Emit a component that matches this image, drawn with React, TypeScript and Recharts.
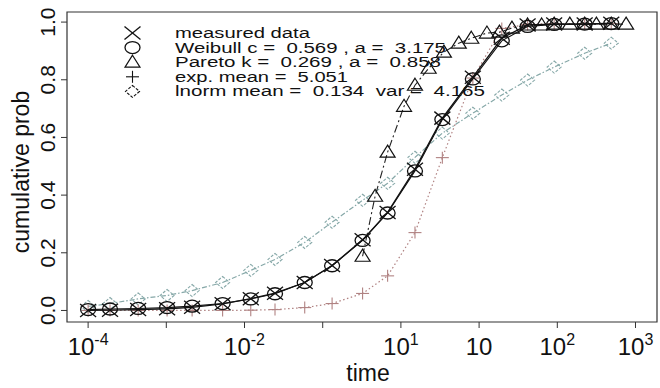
import React from 'react';
import { ScatterChart, Scatter, XAxis, YAxis, ReferenceArea } from 'recharts';

// ---------- data (time given as log10 exponent) ----------
const measuredLogT = [-4.0, -3.72, -3.36, -2.99, -2.67, -2.28, -1.92, -1.61, -1.23, -0.88, -0.49, -0.17, 0.18, 0.53, 0.92, 1.29, 1.62, 1.96, 2.35, 2.69];
const measuredP = [0.0, 0.001, 0.003, 0.006, 0.011, 0.023, 0.041, 0.06, 0.097, 0.156, 0.245, 0.34, 0.49, 0.667, 0.809, 0.944, 0.99, 0.993, 0.993, 0.996];
const weibullP = [0.003, 0.005, 0.007, 0.01, 0.015, 0.024, 0.04, 0.058, 0.097, 0.155, 0.243, 0.338, 0.484, 0.662, 0.803, 0.935, 0.985, 0.992, 0.993, 0.995];
const expP = [0.0, 0.0, 0.0, 0.0, 0.0, 0.0, 0.001, 0.003, 0.01, 0.024, 0.059, 0.12, 0.27, 0.53, 0.806, 0.978, 0.992, 0.995, 0.995, 0.995];
const lnormP = [0.014, 0.024, 0.04, 0.052, 0.069, 0.097, 0.139, 0.177, 0.236, 0.306, 0.382, 0.441, 0.531, 0.615, 0.684, 0.747, 0.799, 0.844, 0.892, 0.927];
const paretoLogT = [-0.49, -0.33, -0.17, 0.04, 0.18, 0.355, 0.55, 0.74, 0.9, 1.1, 1.26, 1.42, 1.62, 1.8, 1.96, 2.16, 2.35, 2.5, 2.69, 2.88];
const paretoP = [0.188, 0.396, 0.549, 0.708, 0.781, 0.84, 0.896, 0.927, 0.944, 0.962, 0.965, 0.979, 0.99, 0.99, 0.993, 0.993, 0.993, 0.993, 0.993, 0.993];

const xTickExps = [-4, -3, -2, -1, 0, 1, 2, 3];
const xTickLabels: Array<[string, string] | null> = [['10', '-4'], null, ['10', '-2'], null, ['10', '1'], ['10', ''], ['10', '2'], ['10', '3']];
const yTicks = [0, 0.2, 0.4, 0.6, 0.8, 1.0];
const yTickLabels = ['0.0', '0.2', '0.4', '0.6', '0.8', '1.0'];
const legendLabels = [
  'measured data',
  'Weibull c =  0.569 , a =  3.175',
  'Pareto k =  0.269 , a =  0.858',
  'exp. mean =  5.051',
  'lnorm mean =  0.134  var =  4.165',
];
const xTitle = 'time';
const yTitle = 'cumulative prob';

// ---------- layout / style ----------
const W = 660;
const H = 388;
const FONT = 'Liberation Sans, Arial, Helvetica, sans-serif';
const xDomain = [Math.pow(10, -4.27), Math.pow(10, 3.275)];
const yDomain = [-0.04, 1.035];
const legendTextWidths = [135, 271, 266, 173, 310];
const COL_EXP = '#b08282';
const COL_LN = '#86a8a8';

const toPts = (logs: number[], ps: number[]) => logs.map((e, i) => ({ t: Math.pow(10, e), p: ps[i] }));
const measuredData = toPts(measuredLogT, measuredP);
const weibullData = toPts(measuredLogT, weibullP);
const expData = toPts(measuredLogT, expP);
const lnormData = toPts(measuredLogT, lnormP);
const paretoData = toPts(paretoLogT, paretoP);

// ---------- markers ----------
const XMark = ({ cx, cy, color = '#111' }: any) => (
  <g stroke={color} strokeWidth={1.3} fill="none">
    <line x1={cx - 8} y1={cy - 6.5} x2={cx + 8} y2={cy + 6.5} />
    <line x1={cx - 8} y1={cy + 6.5} x2={cx + 8} y2={cy - 6.5} />
  </g>
);
const OMark = ({ cx, cy, color = '#111' }: any) => (
  <ellipse cx={cx} cy={cy} rx={7.5} ry={6} stroke={color} strokeWidth={1.3} fill="none" />
);
const TriMark = ({ cx, cy, color = '#111' }: any) => (
  <polygon points={`${cx},${cy - 7} ${cx + 7.5},${cy + 5} ${cx - 7.5},${cy + 5}`} stroke={color} strokeWidth={1.2} fill="none" />
);
const PlusMark = ({ cx, cy, color = COL_EXP }: any) => (
  <g stroke={color} strokeWidth={1.1}>
    <line x1={cx - 6.5} y1={cy} x2={cx + 6.5} y2={cy} />
    <line x1={cx} y1={cy - 6} x2={cx} y2={cy + 6} />
  </g>
);
const DiaMark = ({ cx, cy, color = COL_LN }: any) => (
  <polygon points={`${cx},${cy - 6} ${cx + 7},${cy} ${cx},${cy + 6} ${cx - 7},${cy}`} stroke={color} strokeWidth={1.1} fill="none" strokeDasharray="3 1.5" />
);

// ---------- ticks ----------
const XTick = (props: any) => {
  const { x, y, payload } = props;
  const e = Math.round(Math.log10(payload.value));
  const idx = xTickExps.indexOf(e);
  const lab = idx >= 0 ? xTickLabels[idx] : null;
  if (!lab) return null;
  return (
    <text x={x} y={y + 25} textAnchor="middle" fontSize={24} fontFamily={FONT} fill="#111">
      <tspan>{lab[0]}</tspan>
      {lab[1] ? <tspan dy={-10} fontSize={16}>{lab[1]}</tspan> : null}
    </text>
  );
};
const YTick = (props: any) => {
  const { x, y, payload } = props;
  const idx = yTicks.findIndex((v) => Math.abs(v - payload.value) < 1e-9);
  const bx = x - 4;
  return (
    <text x={bx} y={y} transform={`rotate(-90 ${bx} ${y})`} textAnchor="middle" fontSize={21} fontFamily={FONT} fill="#111">
      {idx >= 0 ? yTickLabels[idx] : ''}
    </text>
  );
};

const legendMarks = [XMark, OMark, TriMark, PlusMark, DiaMark];

export default function App() {
  return (
    <div style={{ position: 'absolute', left: 0, top: 0, width: W, height: H, background: '#fff' }}>
      <ScatterChart width={W} height={H} margin={{ top: 12, right: 3, bottom: 0, left: 0 }}>
        <XAxis
          dataKey="t"
          type="number"
          scale="log"
          domain={xDomain}
          allowDataOverflow
          ticks={xTickExps.map((e) => Math.pow(10, e))}
          interval={0}
          tick={<XTick />}
          tickLine={{ stroke: '#333', strokeWidth: 1 }}
          tickSize={6}
          axisLine={false}
          height={66}
        />
        <YAxis
          dataKey="p"
          type="number"
          domain={yDomain}
          allowDataOverflow
          ticks={yTicks}
          interval={0}
          tick={<YTick />}
          tickLine={{ stroke: '#333', strokeWidth: 1 }}
          tickSize={6}
          axisLine={false}
          width={67}
        />
        <ReferenceArea x1={xDomain[0]} x2={xDomain[1]} y1={yDomain[0]} y2={yDomain[1]} fill="none" stroke="#333" strokeWidth={1.2} />
        <Scatter
          data={lnormData}
          isAnimationActive={false}
          line={{ stroke: COL_LN, strokeWidth: 1.2, strokeDasharray: '5 2 1.5 2' }}
          lineType="joint"
          shape={(p: any) => <DiaMark cx={p.cx} cy={p.cy} />}
        />
        <Scatter
          data={expData}
          isAnimationActive={false}
          line={{ stroke: COL_EXP, strokeWidth: 1.2, strokeDasharray: '1.5 2.5' }}
          lineType="joint"
          shape={(p: any) => <PlusMark cx={p.cx} cy={p.cy} />}
        />
        <Scatter
          data={paretoData}
          isAnimationActive={false}
          line={{ stroke: '#222', strokeWidth: 1.1, strokeDasharray: '8 3 2 3' }}
          lineType="joint"
          shape={(p: any) => <TriMark cx={p.cx} cy={p.cy} />}
        />
        <Scatter
          data={weibullData}
          isAnimationActive={false}
          line={{ stroke: '#111', strokeWidth: 1.1 }}
          lineType="joint"
          shape={(p: any) => <OMark cx={p.cx} cy={p.cy} />}
        />
        <Scatter
          data={measuredData}
          isAnimationActive={false}
          line={{ stroke: '#111', strokeWidth: 1.3 }}
          lineType="joint"
          shape={(p: any) => <XMark cx={p.cx} cy={p.cy} />}
        />
      </ScatterChart>
      <svg width={W} height={H} style={{ position: 'absolute', left: 0, top: 0, pointerEvents: 'none' }}>
        <text x={368} y={381} textAnchor="middle" fontSize={23} fontFamily={FONT} fill="#111">{xTitle}</text>
        <text x={29} y={172} transform="rotate(-90 29 172)" textAnchor="middle" fontSize={23} fontFamily={FONT} fill="#111">{yTitle}</text>
        {legendLabels.map((lab, i) => {
          const M = legendMarks[i];
          const cy = 33 + i * 14.6;
          return (
            <g key={lab}>
              <M cx={132.5} cy={cy} color="#111" />
              <text
                x={175}
                y={38 + i * 14.6}
                fontSize={14}
                fontFamily={FONT}
                fill="#111"
                textLength={legendTextWidths[i]}
                lengthAdjust="spacingAndGlyphs"
                style={{ whiteSpace: 'pre' }}
              >
                {lab}
              </text>
            </g>
          );
        })}
      </svg>
    </div>
  );
}
